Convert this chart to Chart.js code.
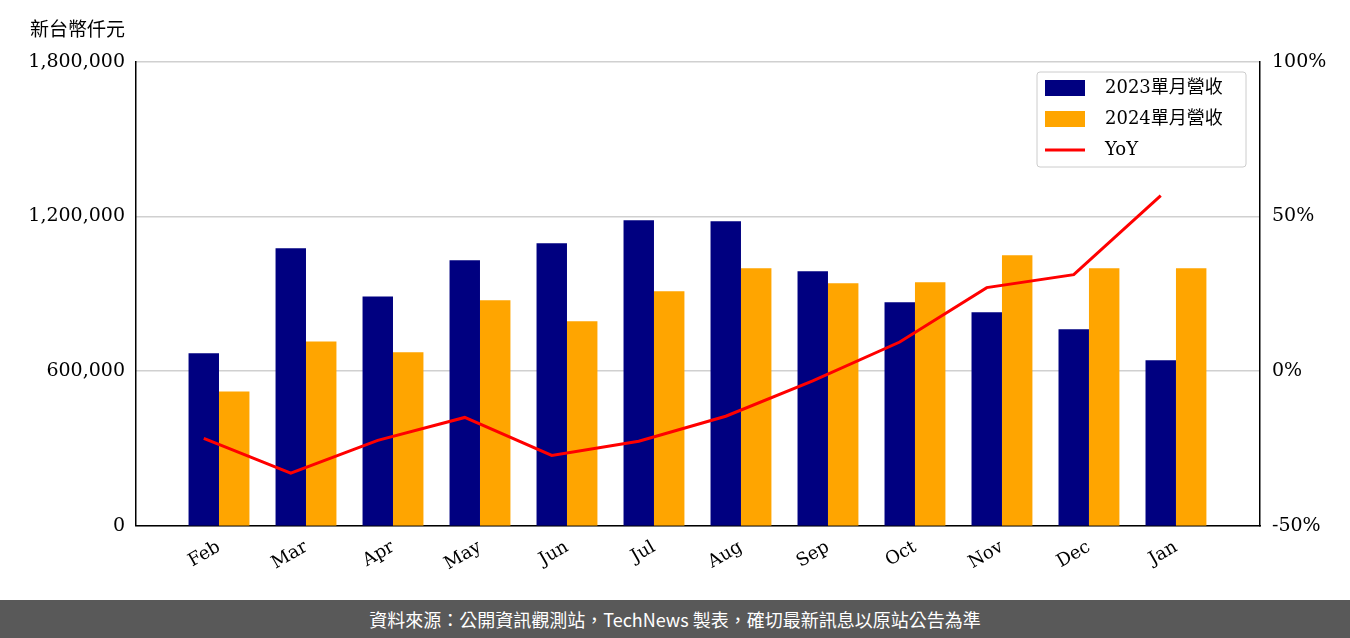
<!DOCTYPE html>
<html><head><meta charset="utf-8">
<script src="https://cdn.jsdelivr.net/npm/chart.js@4/dist/chart.umd.min.js"></script>
<style>
body{margin:0;background:#fff;width:1350px;height:638px;overflow:hidden}
#wrap{position:relative;width:1350px;height:600px}
#foot{position:absolute;top:600px;left:0;width:1350px;height:38px;background:#595959;color:#fff;font:18px "Noto Sans CJK TC","Noto Sans";text-align:center;line-height:38px}
#unit{position:absolute;left:30px;top:14px;font:19px "Noto Sans CJK TC";color:#000}
</style></head><body>
<div id="wrap"><canvas id="c" width="1350" height="600"></canvas><div id="unit">新台幣仟元</div></div>
<div id="foot">資料來源：公開資訊觀測站，TechNews 製表，確切最新訊息以原站公告為準</div>
<script>
const categories=["Feb","Mar","Apr","May","Jun","Jul","Aug","Sep","Oct","Nov","Dec","Jan"];
const rev2023=[669000,1077000,890000,1030000,1096000,1186000,1182000,988000,867000,828000,762000,642000];
const rev2024=[521000,715000,673000,875000,793000,910000,999000,941000,945000,1050000,999000,999000];
const yoy=[-21.8,-33,-22.4,-15,-27.3,-22.7,-14.6,-3.2,9.4,27,31.2,56.8];
const leftTicks=[0,600000,1200000,1800000];
const rightTicks=[-50,0,50,100];
const F='"DejaVu Serif"';
const pts=(a,off)=>a.map((v,i)=>({x:i+off,y:v}));
const legendPlugin={id:'lg',afterDraw(ch){const c=ch.ctx;c.save();
 const x=1037,y=72,w=209,h=95;c.fillStyle='rgba(255,255,255,0.85)';c.strokeStyle='#ccc';c.lineWidth=1;
 c.beginPath();c.roundRect(x,y,w,h,3);c.fill();c.stroke();
 const items=[['2023單月營收','#000080','bar'],['2024單月營收','#FFA500','bar'],['YoY','#FF0000','line']];
 c.font='18px '+F+',"Noto Sans CJK TC"';c.textBaseline='middle';
 items.forEach((it,i)=>{const yy=y+16+i*31;
  if(it[2]=='bar'){c.fillStyle=it[1];c.fillRect(x+8,yy-8,40,16);}else{c.strokeStyle=it[1];c.lineWidth=3;c.beginPath();c.moveTo(x+8,yy);c.lineTo(x+48,yy);c.stroke();}
  c.fillStyle='#000';c.fillText(it[0],x+68,yy);});
 c.restore();}};
new Chart(document.getElementById('c'),{
 data:{datasets:[
  {type:'line',data:pts(yoy,-0.175),yAxisID:'y1',borderColor:'#FF0000',borderWidth:3,pointRadius:0,tension:0,order:0},
  {type:'bar',data:pts(rev2023,0),yAxisID:'y',backgroundColor:'#000080',barPercentage:1,categoryPercentage:0.7,order:1},
  {type:'bar',data:pts(rev2024,0),yAxisID:'y',backgroundColor:'#FFA500',barPercentage:1,categoryPercentage:0.7,order:1}]},
 options:{responsive:false,animation:false,layout:{padding:{top:62,bottom:22,left:0,right:0}},
  plugins:{legend:{display:false},tooltip:{enabled:false}},
  scales:{
   x:{type:'linear',min:-0.954,max:11.966,offset:false,grid:{display:false},border:{color:'#000',width:1.5},
      afterBuildTicks(s){s.ticks=categories.map((c,i)=>({value:i}));},
      ticks:{color:'#000',font:{family:F,size:18},maxRotation:30,minRotation:30,autoSkip:false,callback:v=>categories[v]}},
   y:{position:'left',min:0,max:1800000,afterFit(s){s.width=136;},afterBuildTicks(s){s.ticks=leftTicks.map(v=>({value:v}));},
      grid:{display:false},border:{color:'#000',width:1.5},
      ticks:{color:'#000',font:{family:F,size:19},callback:v=>v.toLocaleString('en-US')}},
   y1:{position:'right',min:-50,max:100,afterFit(s){s.width=90;},afterBuildTicks(s){s.ticks=rightTicks.map(v=>({value:v}));},
      grid:{color:'#d0d0d0',lineWidth:1.5,drawTicks:false},border:{color:'#000',width:1.5},
      ticks:{color:'#000',font:{family:F,size:19},padding:12,callback:v=>v+'%'}}
  }},
 plugins:[legendPlugin]
});
</script></body></html>
